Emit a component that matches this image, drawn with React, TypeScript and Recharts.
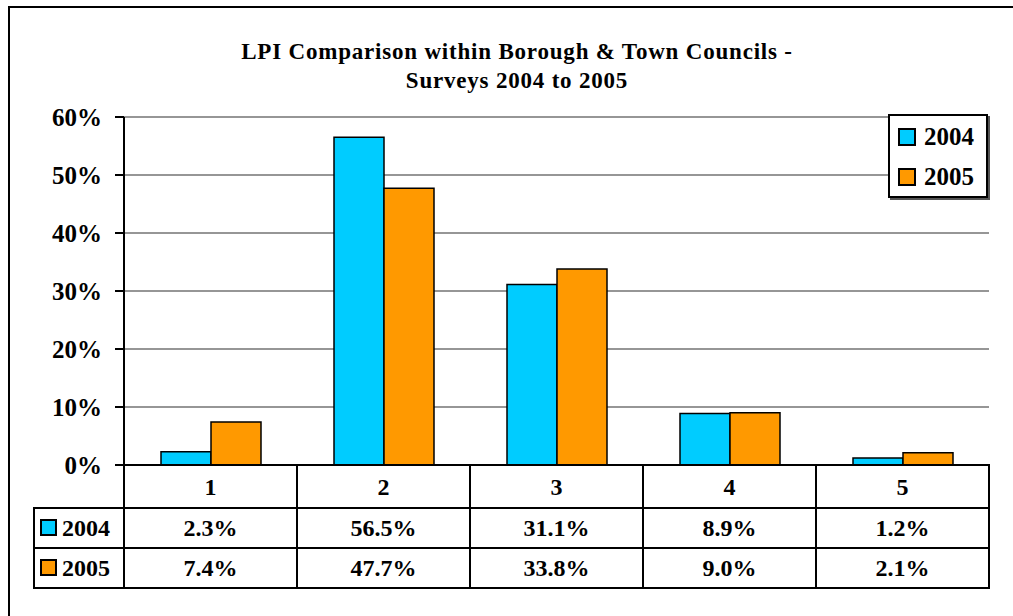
import { BarChart, Bar, XAxis, YAxis, CartesianGrid, Legend } from 'recharts'

const categories = ['1', '2', '3', '4', '5']
const values2004 = [2.3, 56.5, 31.1, 8.9, 1.2]
const values2005 = [7.4, 47.7, 33.8, 9.0, 2.1]
const seriesNames = ['2004', '2005']
const seriesColors = ['#00CCFF', '#FF9900']
const yTicks = [0, 10, 20, 30, 40, 50, 60]

const data = categories.map((c, i) => ({ category: c, y2004: values2004[i], y2005: values2005[i] }))
const seriesValues = [values2004, values2005]

const W = 1013
const H = 616
const PLOT_LEFT = 124
const PLOT_RIGHT = 989
const COL_W = (PLOT_RIGHT - PLOT_LEFT) / categories.length
const HEAD_H = 43
const ROW_H = 40
const KEY_W = 90
const FONT = '"Liberation Serif", "Times New Roman", "DejaVu Serif", serif'

function TableTick(props: any) {
  const { x, y, payload } = props
  const i = categories.indexOf(String(payload.value))
  const left = x - COL_W / 2
  return (
    <g fontFamily={FONT} fontWeight="bold" fontSize={24} fill="#000">
      <rect x={left} y={y} width={COL_W} height={HEAD_H} fill="#fff" stroke="#000" strokeWidth={2} />
      <text x={x} y={y + HEAD_H / 2} textAnchor="middle" dominantBaseline="central">
        {categories[i]}
      </text>
      {seriesValues.map((vals, s) => (
        <g key={s}>
          <rect
            x={left}
            y={y + HEAD_H + s * ROW_H}
            width={COL_W}
            height={ROW_H}
            fill="#fff"
            stroke="#000"
            strokeWidth={2}
          />
          <text x={x} y={y + HEAD_H + s * ROW_H + ROW_H / 2} textAnchor="middle" dominantBaseline="central">
            {vals[i].toFixed(1)}%
          </text>
        </g>
      ))}
      {i === 0 &&
        seriesNames.map((name, s) => (
          <g key={name}>
            <rect
              x={left - KEY_W}
              y={y + HEAD_H + s * ROW_H}
              width={KEY_W}
              height={ROW_H}
              fill="#fff"
              stroke="#000"
              strokeWidth={2}
            />
            <rect
              x={left - KEY_W + 7}
              y={y + HEAD_H + s * ROW_H + 12}
              width={15}
              height={15}
              fill={seriesColors[s]}
              stroke="#000"
              strokeWidth={2}
            />
            <text x={left - KEY_W + 28} y={y + HEAD_H + s * ROW_H + ROW_H / 2} dominantBaseline="central">
              {name}
            </text>
          </g>
        ))}
    </g>
  )
}

function LegendBox() {
  return (
    <div
      style={{
        boxSizing: 'border-box',
        width: 100,
        height: 84,
        border: '2px solid #000',
        background: '#fff',
        boxShadow: '2px 2px 0 #555',
        padding: '1px 0 0 8px',
        fontFamily: FONT,
        fontWeight: 'bold',
        fontSize: 25,
      }}
    >
      {seriesNames.map((name, s) => (
        <div key={name} style={{ display: 'flex', alignItems: 'center', height: 40 }}>
          <span
            style={{
              boxSizing: 'border-box',
              width: 18,
              height: 18,
              background: seriesColors[s],
              border: '2px solid #000',
              marginRight: 8,
            }}
          />
          <span>{name}</span>
        </div>
      ))}
    </div>
  )
}

export default function App() {
  return (
    <div style={{ position: 'absolute', left: 0, top: 0, width: W, height: H, overflow: 'hidden', background: '#fff' }}>
      <div
        style={{
          position: 'absolute',
          left: 8,
          top: 6,
          width: 1100,
          height: 700,
          borderLeft: '2px solid #000',
          borderTop: '2px solid #000',
        }}
      />
      <div
        style={{
          position: 'absolute',
          left: 117,
          top: 37,
          width: 800,
          textAlign: 'center',
          fontFamily: FONT,
          fontWeight: 'bold',
          fontSize: 23,
          letterSpacing: 0.8,
          lineHeight: '29px',
        }}
      >
        LPI Comparison within Borough &amp; Town Councils -
        <br />
        Surveys 2004 to 2005
      </div>
      <div style={{ position: 'absolute', left: 0, top: 0 }}>
        <BarChart
          width={W}
          height={H}
          data={data}
          margin={{ top: 117, right: W - PLOT_RIGHT, left: PLOT_LEFT - 100, bottom: 28 }}
          barGap={0}
          barSize={50}
        >
          <CartesianGrid vertical={false} stroke="#969696" strokeWidth={2} />
          <XAxis
            dataKey="category"
            height={123}
            interval={0}
            tickLine={false}
            tickSize={0}
            tickMargin={0}
            axisLine={{ stroke: '#000', strokeWidth: 2 }}
            tick={(p: any) => <TableTick {...p} />}
          />
          <YAxis
            width={100}
            domain={[0, 60]}
            ticks={yTicks}
            tickFormatter={(v: number) => `${v}%`}
            tickSize={9}
            tickMargin={13}
            axisLine={{ stroke: '#000', strokeWidth: 2 }}
            tickLine={{ stroke: '#000', strokeWidth: 2 }}
            tick={{ fill: '#000', fontFamily: FONT, fontWeight: 'bold', fontSize: 25 }}
          />
          <YAxis
            yAxisId="right"
            orientation="right"
            width={0}
            domain={[0, 60]}
            ticks={yTicks}
            tick={false}
            tickLine={false}
            axisLine={{ stroke: '#969696', strokeWidth: 2 }}
          />
          <Bar dataKey="y2004" name={seriesNames[0]} fill={seriesColors[0]} stroke="#000" strokeWidth={1.5} isAnimationActive={false} />
          <Bar dataKey="y2005" name={seriesNames[1]} fill={seriesColors[1]} stroke="#000" strokeWidth={1.5} isAnimationActive={false} />
          <Legend
            layout="vertical"
            align="center"
            verticalAlign="middle"
            wrapperStyle={{ left: 888, top: 114, width: 100, height: 84 }}
            content={() => <LegendBox />}
          />
        </BarChart>
      </div>
    </div>
  )
}
